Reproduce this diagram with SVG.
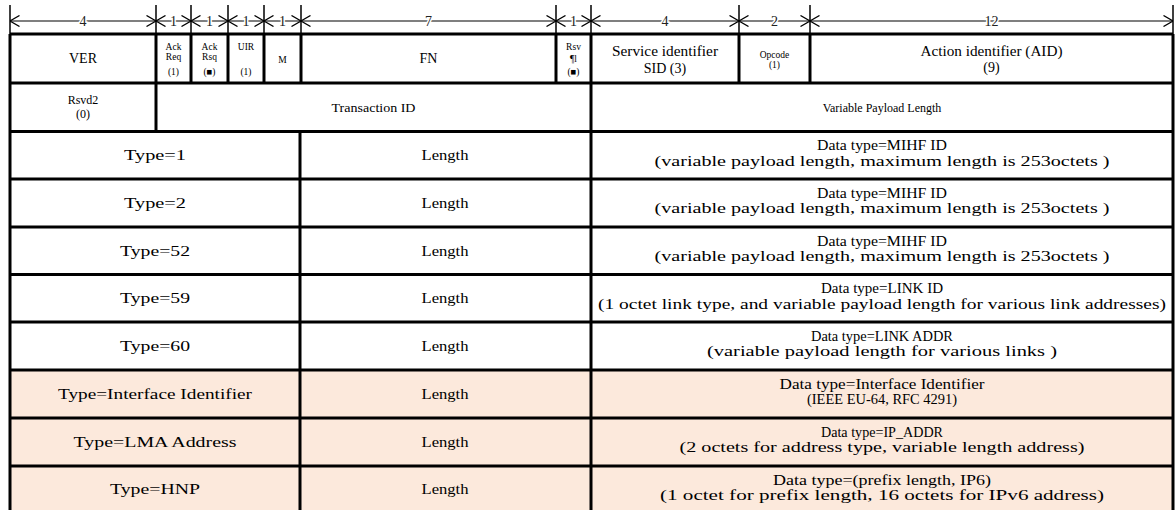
<svg xmlns="http://www.w3.org/2000/svg" width="1176" height="510" viewBox="0 0 1176 510">
<defs>
<marker id="ah" viewBox="0 0 10 12" refX="10" refY="6" markerWidth="10" markerHeight="12" markerUnits="userSpaceOnUse" orient="auto-start-reverse">
<path d="M0.5,0.5 L10,6 L0.5,11.5" fill="none" stroke="#000" stroke-width="1.3"/>
</marker>
<style>
.t{font-family:"Liberation Serif","Times New Roman",serif;fill:#000;text-anchor:middle}
.big{font-size:15.5px}
.hd{font-size:14px}
.sm{font-size:9.5px}
.md{font-size:12px}
.rl{font-size:14px;fill:#222;stroke:#fff;stroke-width:3px;paint-order:stroke}
.g{stroke:#000;stroke-width:3;fill:none}
.tk{stroke:#000;stroke-width:1.5}
.rline{stroke:#000;stroke-width:1.2;marker-start:url(#ah);marker-end:url(#ah)}
</style>
</defs>
<rect width="1176" height="510" fill="#fff"/>
<rect x="10" y="370" width="1163" height="140" fill="#FCE9DC"/>
<g id="ruler">
<g class="tk">
<line x1="10" y1="5" x2="10" y2="34"/><line x1="156" y1="5" x2="156" y2="34"/><line x1="191" y1="5" x2="191" y2="34"/><line x1="228" y1="5" x2="228" y2="34"/><line x1="264" y1="5" x2="264" y2="34"/><line x1="301" y1="5" x2="301" y2="34"/><line x1="556" y1="5" x2="556" y2="34"/><line x1="591" y1="5" x2="591" y2="34"/><line x1="739" y1="5" x2="739" y2="34"/><line x1="810" y1="5" x2="810" y2="34"/><line x1="1173" y1="5" x2="1173" y2="34"/>
</g>
<g class="rline">
<line x1="10" y1="21" x2="156" y2="21"/><line x1="156" y1="21" x2="191" y2="21"/><line x1="191" y1="21" x2="228" y2="21"/><line x1="228" y1="21" x2="264" y2="21"/><line x1="264" y1="21" x2="301" y2="21"/><line x1="301" y1="21" x2="556" y2="21"/><line x1="556" y1="21" x2="591" y2="21"/><line x1="591" y1="21" x2="739" y2="21"/><line x1="739" y1="21" x2="810" y2="21"/><line x1="810" y1="21" x2="1173" y2="21"/>
</g>
<g class="t rl">
<text x="83" y="26">4</text><text x="173.5" y="26">1</text><text x="209.5" y="26">1</text><text x="246" y="26">1</text><text x="282.5" y="26">1</text><text x="428.5" y="26">7</text><text x="573.5" y="26">1</text><text x="665" y="26">4</text><text x="774.5" y="26">2</text><text x="991.5" y="26">12</text>
</g>
</g>
<g id="grid" class="g">
<line x1="10" y1="34" x2="1173" y2="34"/>
<line x1="10" y1="83" x2="1173" y2="83"/>
<line x1="10" y1="131.5" x2="1173" y2="131.5"/>
<line x1="10" y1="179" x2="1173" y2="179"/>
<line x1="10" y1="227" x2="1173" y2="227"/>
<line x1="10" y1="274.5" x2="1173" y2="274.5"/>
<line x1="10" y1="322" x2="1173" y2="322"/>
<line x1="10" y1="370" x2="1173" y2="370"/>
<line x1="10" y1="418" x2="1173" y2="418"/>
<line x1="10" y1="466" x2="1173" y2="466"/>
<line x1="10" y1="34" x2="10" y2="510"/>
<line x1="1173" y1="34" x2="1173" y2="510"/>
<line x1="156" y1="34" x2="156" y2="131.5"/>
<line x1="191" y1="34" x2="191" y2="83"/>
<line x1="228" y1="34" x2="228" y2="83"/>
<line x1="264" y1="34" x2="264" y2="83"/>
<line x1="301" y1="34" x2="301" y2="83"/>
<line x1="556" y1="34" x2="556" y2="83"/>
<line x1="591" y1="34" x2="591" y2="510"/>
<line x1="739" y1="34" x2="739" y2="83"/>
<line x1="810" y1="34" x2="810" y2="83"/>
<line x1="300" y1="131.5" x2="300" y2="510"/>
</g>
<g id="header" class="t">
<g id="ver"><text class="hd" x="83" y="63">VER</text></g>
<g id="ackreq" class="sm"><text x="173.5" y="50">Ack</text><text x="173.5" y="60">Req</text><text x="173.5" y="75">(1)</text></g>
<g id="ackrsq" class="sm"><text x="209.5" y="50">Ack</text><text x="209.5" y="60">Rsq</text><text x="209.5" y="75">(■)</text></g>
<g id="uir" class="sm"><text x="246" y="50">UIR</text><text x="246" y="75">(1)</text></g>
<g id="m" class="sm"><text x="282.5" y="63">M</text></g>
<g id="fn"><text class="hd" x="428.5" y="63">FN</text></g>
<g id="rsv" class="sm"><text x="573.5" y="50">Rsv</text><text x="573.5" y="62">¶l</text><text x="573.5" y="75">(■)</text></g>
<g id="sid" class="hd"><text x="665" y="56" textLength="106" lengthAdjust="spacingAndGlyphs">Service identifier</text><text x="665" y="73">SID (3)</text></g>
<g id="opcode" class="sm"><text x="774.5" y="58">Opcode</text><text x="774.5" y="68">(1)</text></g>
<g id="aid" class="hd"><text x="991.5" y="56" textLength="142" lengthAdjust="spacingAndGlyphs">Action identifier (AID)</text><text x="991.5" y="72">(9)</text></g>
</g>
<g id="row2" class="t md">
<g id="rsvd2"><text x="83" y="104">Rsvd2</text><text x="83" y="118">(0)</text></g>
<g id="tid"><text x="373.5" y="112" textLength="84" lengthAdjust="spacingAndGlyphs">Transaction ID</text></g>
<g id="vpl"><text x="882" y="112">Variable Payload Length</text></g>
</g>
<g id="rows" class="t big">
<g id="r1"><text x="155" y="160" textLength="62" lengthAdjust="spacingAndGlyphs">Type=1</text><text x="445" y="160" textLength="47" lengthAdjust="spacingAndGlyphs">Length</text><text x="882" y="150" textLength="130" lengthAdjust="spacingAndGlyphs">Data type=MIHF ID</text><text x="882" y="165.5" textLength="455" lengthAdjust="spacingAndGlyphs">(variable payload length, maximum length is 253octets )</text></g>
<g id="r2"><text x="155" y="208" textLength="62" lengthAdjust="spacingAndGlyphs">Type=2</text><text x="445" y="208" textLength="47" lengthAdjust="spacingAndGlyphs">Length</text><text x="882" y="197.5" textLength="130" lengthAdjust="spacingAndGlyphs">Data type=MIHF ID</text><text x="882" y="213" textLength="455" lengthAdjust="spacingAndGlyphs">(variable payload length, maximum length is 253octets )</text></g>
<g id="r3"><text x="155" y="255.5" textLength="70" lengthAdjust="spacingAndGlyphs">Type=52</text><text x="445" y="255.5" textLength="47" lengthAdjust="spacingAndGlyphs">Length</text><text x="882" y="245.5" textLength="130" lengthAdjust="spacingAndGlyphs">Data type=MIHF ID</text><text x="882" y="261" textLength="455" lengthAdjust="spacingAndGlyphs">(variable payload length, maximum length is 253octets )</text></g>
<g id="r4"><text x="155" y="303" textLength="70" lengthAdjust="spacingAndGlyphs">Type=59</text><text x="445" y="303" textLength="47" lengthAdjust="spacingAndGlyphs">Length</text><text x="882" y="293" textLength="122" lengthAdjust="spacingAndGlyphs">Data type=LINK ID</text><text x="882" y="308.5" textLength="568" lengthAdjust="spacingAndGlyphs">(1 octet link type, and variable payload length for various link addresses)</text></g>
<g id="r5"><text x="155" y="351" textLength="70" lengthAdjust="spacingAndGlyphs">Type=60</text><text x="445" y="351" textLength="47" lengthAdjust="spacingAndGlyphs">Length</text><text x="882" y="340.5" textLength="142" lengthAdjust="spacingAndGlyphs">Data type=LINK ADDR</text><text x="882" y="356" textLength="350" lengthAdjust="spacingAndGlyphs">(variable payload length for various links )</text></g>
<g id="r6"><text x="155" y="399" textLength="194" lengthAdjust="spacingAndGlyphs">Type=Interface Identifier</text><text x="445" y="399" textLength="47" lengthAdjust="spacingAndGlyphs">Length</text><text x="882" y="388.5" textLength="205" lengthAdjust="spacingAndGlyphs">Data type=Interface Identifier</text><text x="882" y="404" textLength="150" lengthAdjust="spacingAndGlyphs">(IEEE EU-64, RFC 4291)</text></g>
<g id="r7"><text x="155" y="447" textLength="163" lengthAdjust="spacingAndGlyphs">Type=LMA Address</text><text x="445" y="447" textLength="47" lengthAdjust="spacingAndGlyphs">Length</text><text x="882" y="436.5" textLength="122" lengthAdjust="spacingAndGlyphs">Data type=IP_ADDR</text><text x="882" y="452" textLength="405" lengthAdjust="spacingAndGlyphs">(2 octets for address type, variable length address)</text></g>
<g id="r8"><text x="155" y="494" textLength="90" lengthAdjust="spacingAndGlyphs">Type=HNP</text><text x="445" y="494" textLength="47" lengthAdjust="spacingAndGlyphs">Length</text><text x="882" y="484.5" textLength="218" lengthAdjust="spacingAndGlyphs">Data type=(prefix length, IP6)</text><text x="882" y="500" textLength="444" lengthAdjust="spacingAndGlyphs">(1 octet for prefix length, 16 octets for IPv6 address)</text></g>
</g>
</svg>
